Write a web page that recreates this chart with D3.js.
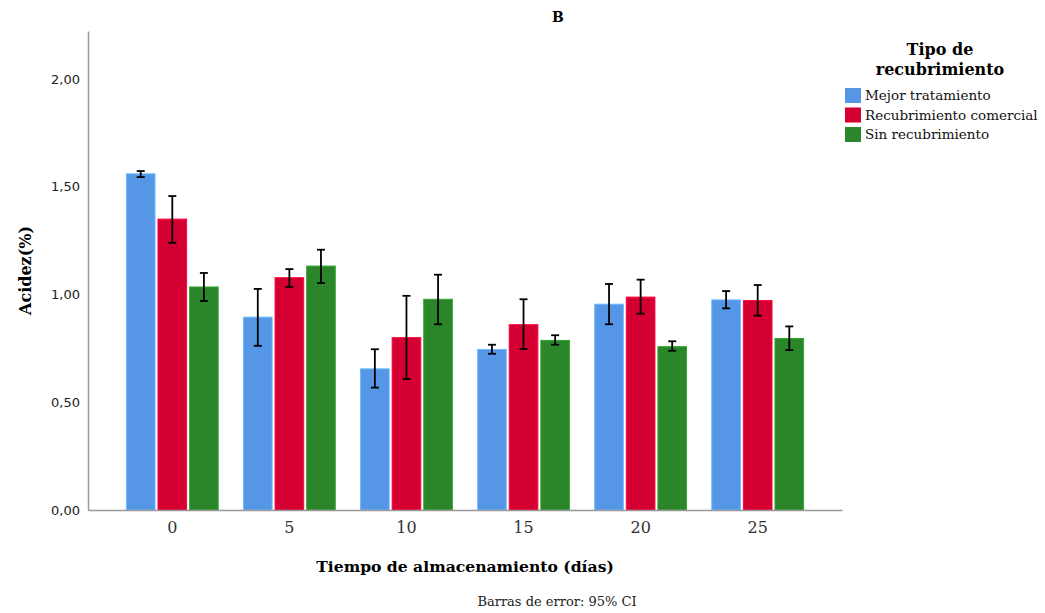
<!DOCTYPE html>
<html>
<head>
<meta charset="utf-8">
<script src="https://cdn.jsdelivr.net/npm/d3@7"></script>
<style>
  body { margin: 0; background: #fff; }
</style>
</head>
<body>
<div id="chart"></div>
<script>
// Storage time (days) categories
const dias = ['0', '5', '10', '15', '20', '25'];
const tratamientos = ['Mejor tratamiento', 'Recubrimiento comercial', 'Sin recubrimiento'];
const colores = ['#5596e6', '#d40032', '#2a8629'];

// mean acidity and 95% CI bounds, one array per treatment
const mejorMedia = [1.56, 0.895, 0.655, 0.745, 0.955, 0.975];
const mejorBajo  = [1.545, 0.762, 0.568, 0.725, 0.862, 0.936];
const mejorAlto  = [1.573, 1.026, 0.746, 0.767, 1.049, 1.016];

const comMedia = [1.35, 1.078, 0.80, 0.86, 0.988, 0.972];
const comBajo  = [1.24, 1.035, 0.608, 0.747, 0.911, 0.902];
const comAlto  = [1.457, 1.118, 0.994, 0.978, 1.069, 1.044];

const sinMedia = [1.035, 1.132, 0.978, 0.787, 0.758, 0.796];
const sinBajo  = [0.97, 1.053, 0.862, 0.767, 0.739, 0.742];
const sinAlto  = [1.10, 1.208, 1.092, 0.811, 0.783, 0.852];

const yTicks = [0, 0.5, 1.0, 1.5, 2.0];

const series = [
  { name: tratamientos[0], media: mejorMedia, bajo: mejorBajo, alto: mejorAlto },
  { name: tratamientos[1], media: comMedia, bajo: comBajo, alto: comAlto },
  { name: tratamientos[2], media: sinMedia, bajo: sinBajo, alto: sinAlto }
];

const data = [];
series.forEach((s, si) => {
  dias.forEach((d, i) => {
    data.push({ dia: d, serie: s.name, idx: si, media: s.media[i], bajo: s.bajo[i], alto: s.alto[i] });
  });
});

const width = 1045;
const height = 613;
const marginLeft = 88;
const marginRight = 203;
const marginTop = 31;
const marginBottom = 103;

const serif = '"DejaVu Serif", serif';

const svg = d3.select('#chart')
  .append('svg')
  .attr('width', width)
  .attr('height', height)
  .attr('viewBox', [0, 0, width, height]);

const x = d3.scaleBand()
  .domain(dias)
  .range([marginLeft, width - marginRight])
  .paddingInner(0)
  .paddingOuter(0.22);

const xInner = d3.scaleBand()
  .domain(tratamientos)
  .range([0, x.bandwidth()])
  .paddingInner(0.094)
  .paddingOuter(0.4);

const y = d3.scaleLinear()
  .domain([0, 2.223])
  .range([height - marginBottom, marginTop]);

// bars
svg.append('g')
  .selectAll('rect')
  .data(data)
  .join('rect')
  .attr('x', d => x(d.dia) + xInner(d.serie))
  .attr('y', d => y(d.media))
  .attr('width', xInner.bandwidth())
  .attr('height', d => y(0) - y(d.media))
  .attr('fill', d => colores[d.idx])
  .attr('stroke', d => d3.color(colores[d.idx]).brighter(0.6))
  .attr('stroke-width', 1);

// error bars
const err = svg.append('g')
  .attr('stroke', '#000')
  .attr('stroke-width', 1.8)
  .selectAll('g')
  .data(data)
  .join('g')
  .attr('transform', d => `translate(${x(d.dia) + xInner(d.serie) + xInner.bandwidth() / 2},0)`);

err.append('line')
  .attr('y1', d => y(d.bajo))
  .attr('y2', d => y(d.alto));
err.append('line')
  .attr('x1', -4).attr('x2', 4)
  .attr('y1', d => y(d.alto)).attr('y2', d => y(d.alto));
err.append('line')
  .attr('x1', -4).attr('x2', 4)
  .attr('y1', d => y(d.bajo)).attr('y2', d => y(d.bajo));

// y axis
const yAxis = svg.append('g')
  .attr('transform', `translate(${marginLeft},0)`)
  .call(d3.axisLeft(y).tickValues(yTicks).tickSize(0).tickPadding(8)
    .tickFormat(d => d3.format('.2f')(d).replace('.', ',')));
yAxis.select('.domain').attr('stroke', '#999').attr('stroke-width', 1.5);
yAxis.selectAll('text')
  .attr('font-family', '"DejaVu Sans", sans-serif')
  .attr('font-size', 13)
  .attr('fill', '#222');

// x axis
const xAxis = svg.append('g')
  .attr('transform', `translate(0,${height - marginBottom})`)
  .call(d3.axisBottom(x).tickSize(0).tickPadding(12).tickSizeOuter(0));
xAxis.select('.domain').attr('stroke', '#999').attr('stroke-width', 1.5);
xAxis.selectAll('text')
  .attr('font-family', serif)
  .attr('font-size', 16)
  .attr('fill', '#333');

// axis titles
svg.append('text')
  .attr('x', (marginLeft + width - marginRight) / 2)
  .attr('y', 572)
  .attr('text-anchor', 'middle')
  .attr('font-family', serif)
  .attr('font-weight', 'bold')
  .attr('font-size', 15.6)
  .text('Tiempo de almacenamiento (días)');

svg.append('text')
  .attr('transform', `translate(31,${(marginTop + height - marginBottom) / 2}) rotate(-90)`)
  .attr('text-anchor', 'middle')
  .attr('font-family', serif)
  .attr('font-weight', 'bold')
  .attr('font-size', 16)
  .text('Acidez(%)');

// title
svg.append('text')
  .attr('x', 558)
  .attr('y', 22)
  .attr('text-anchor', 'middle')
  .attr('font-family', serif)
  .attr('font-weight', 'bold')
  .attr('font-size', 14)
  .text('B');

// footer
svg.append('text')
  .attr('x', 557)
  .attr('y', 606)
  .attr('text-anchor', 'middle')
  .attr('font-family', serif)
  .attr('font-size', 13)
  .attr('fill', '#222')
  .text('Barras de error: 95% CI');

// legend
const legend = svg.append('g');
legend.append('text')
  .attr('x', 940)
  .attr('y', 55)
  .attr('text-anchor', 'middle')
  .attr('font-family', serif)
  .attr('font-weight', 'bold')
  .attr('font-size', 16)
  .selectAll('tspan')
  .data(['Tipo de', 'recubrimiento'])
  .join('tspan')
  .attr('x', 940)
  .attr('dy', (d, i) => i === 0 ? 0 : 20)
  .text(d => d);

const item = legend.selectAll('g.item')
  .data(tratamientos)
  .join('g')
  .attr('class', 'item')
  .attr('transform', (d, i) => `translate(845,${88 + i * 19.5})`);
item.append('rect')
  .attr('width', 16)
  .attr('height', 15)
  .attr('fill', (d, i) => colores[i]);
item.append('text')
  .attr('x', 20)
  .attr('y', 12)
  .attr('font-family', serif)
  .attr('font-size', 13.5)
  .attr('fill', '#111')
  .text(d => d);
</script>
</body>
</html>
